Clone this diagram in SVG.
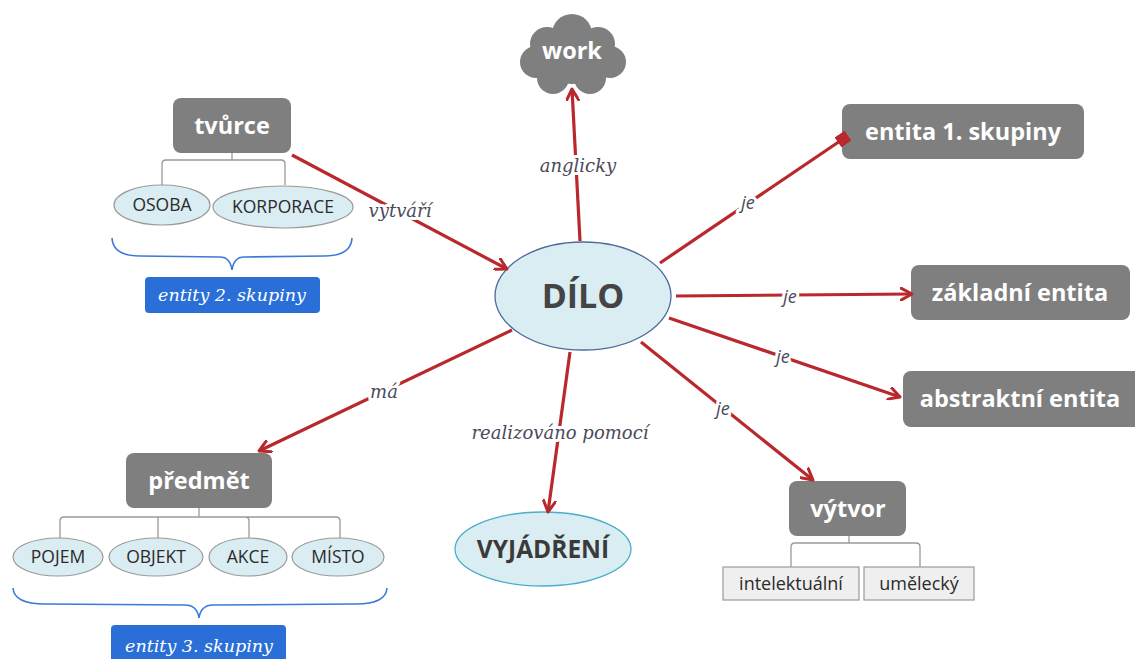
<svg xmlns="http://www.w3.org/2000/svg" width="1135" height="659" viewBox="0 0 1135 659">
  <defs>
    <marker id="arrow" viewBox="0 0 14 14" refX="12" refY="7" markerWidth="14" markerHeight="14" markerUnits="userSpaceOnUse" orient="auto">
      <path d="M1,1 L12,7 L1,13" fill="none" stroke="#b8282c" stroke-width="3" stroke-linecap="round" stroke-linejoin="round"/>
    </marker>
    <marker id="square" viewBox="0 0 12 12" refX="6" refY="6" markerWidth="12" markerHeight="12" markerUnits="userSpaceOnUse" orient="auto">
      <rect x="0" y="0" width="12" height="12" fill="#b8282c"/>
    </marker>
    <style>
      .box { fill: #7f7f7f; }
      .boxText { font-family: "Open Sans", "DejaVu Sans", sans-serif; font-weight: bold; font-size: 23.5px; fill: #ffffff; text-anchor: middle; }
      .oval { fill: #daedf3; stroke: #9a9a9a; stroke-width: 1.2; }
      .ovalText { font-family: "Open Sans", "DejaVu Sans", sans-serif; font-size: 17.5px; fill: #2b2b2b; text-anchor: middle; }
      .tree { fill: none; stroke: #9a9a9a; stroke-width: 1.3; }
      .brace { fill: none; stroke: #3b7ad8; stroke-width: 1.6; }
      .tag { fill: #2a6fd8; }
      .tagText { font-family: "DejaVu Serif", "Liberation Serif", serif; font-style: italic; font-size: 17.5px; fill: #ffffff; text-anchor: middle; }
      .link { fill: none; stroke: #b8282c; stroke-width: 3.2; }
      .label { font-family: "DejaVu Serif", "Liberation Serif", serif; font-style: italic; font-size: 18px; fill: #4a4a5a; text-anchor: middle; stroke: #ffffff; stroke-width: 6; paint-order: stroke; stroke-linejoin: round; }
      .labelSans { font-family: "Open Sans", "DejaVu Sans", sans-serif; font-style: italic; font-size: 18px; fill: #4a4a5a; text-anchor: middle; stroke: #ffffff; stroke-width: 6; paint-order: stroke; stroke-linejoin: round; }
      .leaf { fill: #efefef; stroke: #9a9a9a; stroke-width: 1.2; }
      .leafText { font-family: "Open Sans", "DejaVu Sans", sans-serif; font-size: 18px; fill: #2b2b2b; text-anchor: middle; }
    </style>
  </defs>

  <rect x="0" y="0" width="1135" height="659" fill="#ffffff"/>

  <g id="dilo">
    <ellipse cx="583" cy="296" rx="88" ry="54" fill="#daedf3" stroke="#4e6a9c" stroke-width="1.3"/>
    <text x="583" y="308" font-family="Open Sans, DejaVu Sans, sans-serif" font-weight="bold" font-size="34" fill="#444444" text-anchor="middle">DÍLO</text>
  </g>

  <g id="work">
    <g fill="#7f7f7f">
      <circle cx="572" cy="34" r="20"/>
      <circle cx="547" cy="44" r="17"/>
      <circle cx="598" cy="44" r="17"/>
      <circle cx="536" cy="62" r="16"/>
      <circle cx="610" cy="62" r="16"/>
      <circle cx="553" cy="78" r="16"/>
      <circle cx="590" cy="78" r="16"/>
      <ellipse cx="572" cy="58" rx="38" ry="26"/>
    </g>
    <text class="boxText" x="572" y="59">work</text>
  </g>

  <g id="tvurce">
    <rect class="box" x="173" y="98" width="118" height="55" rx="8"/>
    <text class="boxText" x="232" y="134">tvůrce</text>
    <path class="tree" d="M232,153 V160 M162,185 V164 Q162,160 166,160 H281 Q285,160 285,164 V185"/>
    <ellipse class="oval" cx="162" cy="205" rx="48" ry="20"/>
    <text class="ovalText" x="162" y="211">OSOBA</text>
    <ellipse class="oval" cx="283" cy="207" rx="70" ry="21"/>
    <text class="ovalText" x="283" y="213">KORPORACE</text>
    <path class="brace" d="M112,238 Q113,256 140,256 L220,257 Q230,257 232,270 Q234,257 244,257 L324,256 Q351,256 352,238"/>
    <rect class="tag" x="145" y="277" width="175" height="36" rx="4"/>
    <text class="tagText" x="232" y="301">entity 2. skupiny</text>
  </g>

  <g id="entita1">
    <rect class="box" x="842" y="104" width="242" height="55" rx="8"/>
    <text class="boxText" x="963" y="140">entita 1. skupiny</text>
  </g>

  <g id="zakladni">
    <rect class="box" x="911" y="265" width="219" height="55" rx="8"/>
    <text class="boxText" x="1020" y="301">základní entita</text>
  </g>

  <g id="abstraktni">
    <rect class="box" x="903" y="371" width="240" height="56" rx="8"/>
    <text class="boxText" x="1020" y="407">abstraktní entita</text>
  </g>

  <g id="predmet">
    <rect class="box" x="126" y="453" width="146" height="55" rx="8"/>
    <text class="boxText" x="199" y="489">předmět</text>
    <path class="tree" d="M199,508 V517 M60,538 V521 Q60,517 64,517 H336 Q340,517 340,521 V538 M158,538 V517 M249,538 V521 Q249,517 245,517"/>
    <ellipse class="oval" cx="58" cy="557" rx="45" ry="19"/>
    <text class="ovalText" x="58" y="563">POJEM</text>
    <ellipse class="oval" cx="156" cy="557" rx="47" ry="19"/>
    <text class="ovalText" x="156" y="563">OBJEKT</text>
    <ellipse class="oval" cx="248" cy="557" rx="39" ry="19"/>
    <text class="ovalText" x="248" y="563">AKCE</text>
    <ellipse class="oval" cx="338" cy="557" rx="46" ry="19"/>
    <text class="ovalText" x="338" y="563">MÍSTO</text>
    <path class="brace" d="M13,588 Q14,604 45,604 L185,605 Q197,605 199,618 Q201,605 213,605 L356,604 Q386,604 387,588"/>
    <rect class="tag" x="111" y="625" width="175" height="40" rx="4"/>
    <text class="tagText" x="199" y="652">entity 3. skupiny</text>
  </g>

  <g id="vyjadreni">
    <ellipse cx="543" cy="549" rx="88" ry="37" fill="#daedf3" stroke="#4aaec8" stroke-width="1.3"/>
    <text x="543" y="558" font-family="Open Sans, DejaVu Sans, sans-serif" font-weight="bold" font-size="24.5" fill="#3a3a3a" text-anchor="middle">VYJÁDŘENÍ</text>
  </g>

  <g id="vytvor">
    <rect class="box" x="789" y="481" width="117" height="55" rx="8"/>
    <text class="boxText" x="848" y="517">výtvor</text>
    <path class="tree" d="M849,536 V543 M791,567 V547 Q791,543 795,543 H916 Q920,543 920,547 V567"/>
    <rect class="leaf" x="723" y="567" width="136" height="33"/>
    <text class="leafText" x="791" y="590">intelektuální</text>
    <rect class="leaf" x="864" y="567" width="110" height="33"/>
    <text class="leafText" x="919" y="590">umělecký</text>
  </g>

  <!-- relationship arrows around the central concept, drawn over the nodes they touch -->
  <g id="connectors">
    <line class="link" x1="292" y1="155" x2="507" y2="269" marker-end="url(#arrow)"/>
    <line class="link" x1="580" y1="241" x2="572" y2="89" marker-end="url(#arrow)"/>
    <line class="link" x1="660" y1="263" x2="843" y2="139" marker-end="url(#square)"/>
    <line class="link" x1="676" y1="296" x2="912" y2="294" marker-end="url(#arrow)"/>
    <line class="link" x1="669" y1="318" x2="900" y2="397" marker-end="url(#arrow)"/>
    <line class="link" x1="641" y1="342" x2="813" y2="480" marker-end="url(#arrow)"/>
    <line class="link" x1="512" y1="330" x2="259" y2="451" marker-end="url(#arrow)"/>
    <line class="link" x1="570" y1="352" x2="548" y2="512" marker-end="url(#arrow)"/>

    <text class="label" x="400" y="217">vytváří</text>
    <text class="label" x="578" y="172">anglicky</text>
    <text class="labelSans" x="748" y="209">je</text>
    <text class="labelSans" x="790" y="303">je</text>
    <text class="labelSans" x="783" y="363">je</text>
    <text class="labelSans" x="723" y="415">je</text>
    <text class="label" x="384" y="398">má</text>
    <text class="label" x="560" y="439">realizováno pomocí</text>
  </g>
</svg>
